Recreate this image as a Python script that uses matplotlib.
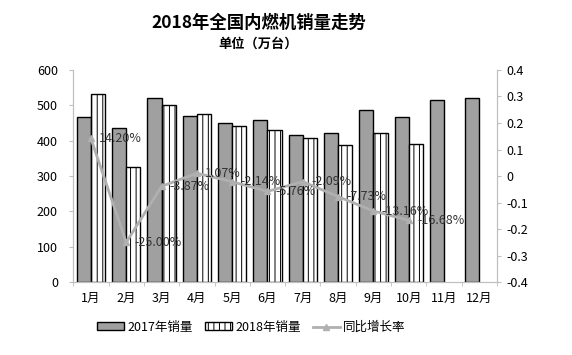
import matplotlib
matplotlib.use("Agg")
import matplotlib.pyplot as plt
import numpy as np

plt.rcParams['font.family'] = ['Noto Sans CJK SC', 'DejaVu Sans']
plt.rcParams['hatch.linewidth'] = 0.7
plt.rcParams['hatch.color'] = 'black'

# data
months = ['1月', '2月', '3月', '4月', '5月', '6月', '7月', '8月', '9月', '10月', '11月', '12月']
sales_2017 = [467, 437, 521, 470, 450, 459, 417, 421, 486, 466, 515, 521]
sales_2018 = [532, 327, 501, 476, 442, 431, 408, 389, 423, 391]
growth = [0.142, -0.25, -0.0387, 0.0107, -0.0214, -0.0576, -0.0209, -0.0773, -0.1316, -0.1668]
growth_labels = ['14.20%', '-25.00%', '-3.87%', '1.07%', '-2.14%', '-5.76%',
                 '-2.09%', '-7.73%', '-13.16%', '-16.68%']

fig = plt.figure(figsize=(5.72, 3.55), dpi=100)
ax = fig.add_axes([0.128, 0.205, 0.741, 0.598])
ax2 = ax.twinx()

x = np.arange(len(months))
x18 = np.arange(len(sales_2018))
w = 0.4

b1 = ax.bar(x - w / 2, sales_2017, w, color='#a0a0a0', edgecolor='black', linewidth=1, label='2017年销量')
b2 = ax.bar(x18 + w / 2, sales_2018, w, color='white', edgecolor='black', linewidth=1,
            hatch='|||', label='2018年销量')

ax.set_ylim(0, 600)
ax.set_yticks(range(0, 601, 100))
ax.set_xlim(-0.5, len(months) - 0.5)
ax.set_xticks(x)
ax.set_xticklabels(months)
ax.set_xticks(np.arange(-0.5, len(months), 1), minor=True)
ax.tick_params(axis='x', which='major', length=0, pad=7)
ax.tick_params(axis='x', which='minor', length=3, color='#bfbfbf')
ax.tick_params(axis='y', length=3, color='#bfbfbf', labelsize=9, pad=8)
ax.tick_params(axis='x', labelsize=9)

ln, = ax2.plot(x18, growth, color='#b0b0b0', linewidth=2, marker='^', markersize=4,
               label='同比增长率')
for xi, yi, t in zip(x18, growth, growth_labels):
    ax2.annotate(t, (xi, yi), xytext=(6, 0), textcoords='offset points',
                 va='center', ha='left', fontsize=9, color='#333333')
ax2.set_ylim(-0.4, 0.4)
ax2.set_yticks(np.arange(-0.4, 0.41, 0.1))
ax2.set_yticklabels(['-0.4', '-0.3', '-0.2', '-0.1', '0', '0.1', '0.2', '0.3', '0.4'])
ax2.tick_params(axis='y', length=3, color='#bfbfbf', labelsize=9)

for a in (ax, ax2):
    a.spines['top'].set_visible(False)
    a.spines['left'].set_color('#bfbfbf')
    a.spines['right'].set_color('#bfbfbf')
    a.spines['bottom'].set_color('#bfbfbf')

fig.text(0.452, 0.935, '2018年全国内燃机销量走势', ha='center', va='center',
         fontsize=12.5, fontweight='bold')
fig.text(0.452, 0.878, '单位（万台）', ha='center', va='center', fontsize=9.5, fontweight='bold')

fig.legend(handles=[b1, b2, ln], loc='center', bbox_to_anchor=(0.44, 0.078), ncol=3,
           frameon=False, fontsize=9, handlelength=2.1, handleheight=0.6,
           columnspacing=1.0, handletextpad=0.3)

fig.savefig('out.png', dpi=100)
